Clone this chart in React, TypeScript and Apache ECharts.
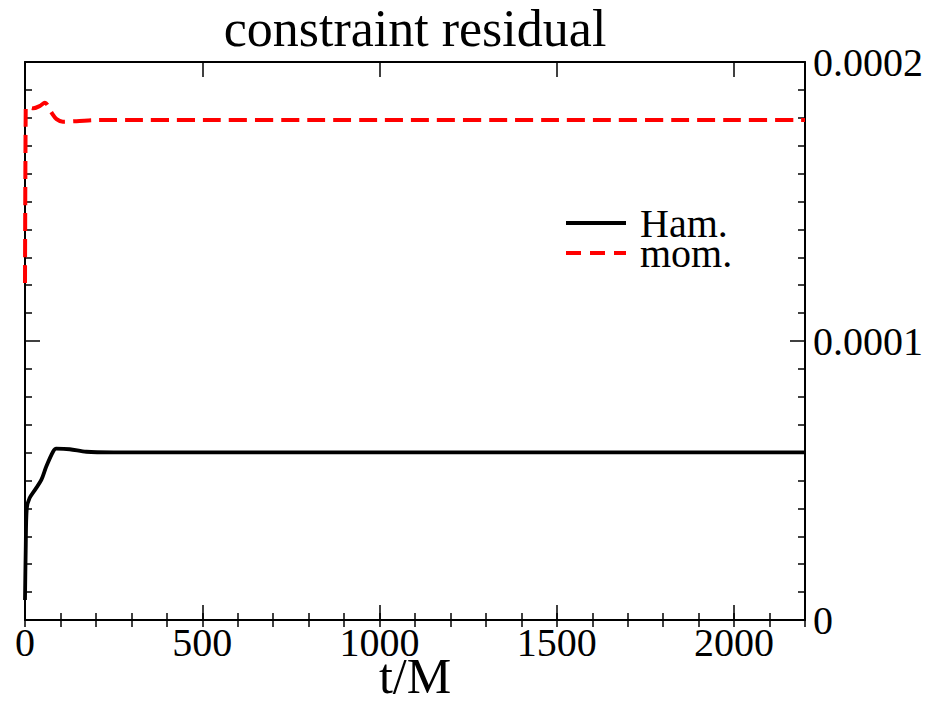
import React, { useEffect, useRef } from "react";
import * as echarts from "echarts";

const titleText = "constraint residual";
const xName = "t/M";
const seriesNames = ["Ham.", "mom."];

// Hamiltonian constraint residual
const hamT = [0, 2, 5, 13, 30, 46, 60, 79, 88, 126, 173, 250, 500, 1000, 1500, 2000, 2200];
const hamV = [0.72e-5, 2.5e-5, 4.0e-5, 4.37e-5, 4.7e-5, 5.02e-5, 5.5e-5, 6.03e-5, 6.14e-5, 6.12e-5, 6.03e-5, 6.01e-5, 6.01e-5, 6.01e-5, 6.01e-5, 6.01e-5, 6.01e-5];

// momentum constraint residual
const momT = [0, 2, 4, 23, 41, 56, 75, 89, 107, 145, 211, 324, 1000, 1500, 2000, 2200];
const momV = [12.08e-5, 18.3e-5, 18.4e-5, 18.34e-5, 18.42e-5, 18.54e-5, 18.18e-5, 17.95e-5, 17.86e-5, 17.88e-5, 17.92e-5, 17.92e-5, 17.92e-5, 17.92e-5, 17.92e-5, 17.92e-5];

const xMin = 0;
const xMax = 2200;
const xMajor = 500;
const xMinor = 100;
const yMin = 0;
const yMax = 0.0002;
const yMajor = 0.0001;

const FONT = "'Liberation Serif', 'Times New Roman', serif";

const ICON_SOLID = "path://M0,0H60V4H0Z";
const ICON_DASHED = "path://M0,0H15V4H0Z M24,0H39V4H24Z M48,0H60V4H48Z";

export default function App() {
  const ref = useRef<HTMLDivElement>(null);
  useEffect(() => {
    if (!ref.current) return;
    const chart = echarts.init(ref.current, null, { renderer: "svg" });
    const axisBlack = { lineStyle: { color: "#000", width: 2 } };
    const majorX = (pos: string, labels: boolean, name?: string) => ({
      type: "value",
      position: pos,
      min: xMin,
      max: xMax,
      interval: xMajor,
      axisLine: { show: true, onZero: false, ...axisBlack },
      axisTick: { show: true, inside: true, length: 15, lineStyle: { color: "#000", width: 1.5 } },
      axisLabel: labels
        ? {
            show: true,
            margin: 2,
            fontSize: 40,
            fontFamily: FONT,
            color: "#000",
            showMaxLabel: false,
            formatter: (v: number) => String(v),
          }
        : { show: false },
      splitLine: { show: false },
      name: name,
      nameLocation: "middle",
      nameGap: 31,
      nameMoveOverlap: false,
      nameTextStyle: { fontSize: 50, fontFamily: FONT, color: "#000" },
    });
    const minorX = (pos: string) => ({
      type: "value",
      position: pos,
      min: xMin,
      max: xMax,
      interval: xMinor,
      axisLine: { show: false },
      axisTick: { show: true, inside: true, length: 7, lineStyle: { color: "#000", width: 1.5 } },
      axisLabel: { show: false },
      splitLine: { show: false },
    });
    const yAx = (pos: string, labels: boolean) => ({
      type: "value",
      position: pos,
      min: yMin,
      max: yMax,
      interval: yMajor,
      axisLine: { show: true, onZero: false, ...axisBlack },
      axisTick: { show: true, inside: true, length: 15, lineStyle: { color: "#000", width: 1.5 } },
      minorTick: { show: true, splitNumber: 10, length: 7, lineStyle: { color: "#000", width: 1.5 } },
      axisLabel: labels
        ? {
            show: true,
            margin: 8,
            fontSize: 40,
            fontFamily: FONT,
            color: "#000",
            formatter: (v: number) => (v === 0 ? "0" : v.toFixed(4)),
          }
        : { show: false },
      splitLine: { show: false },
      minorSplitLine: { show: false },
    });
    chart.setOption({
      animation: false,
      backgroundColor: "#fff",
      title: {
        text: titleText,
        left: 415,
        top: 2,
        padding: 0,
        textAlign: "center",
        textStyle: { fontSize: 52, fontFamily: FONT, fontWeight: "normal", color: "#000" },
      },
      legend: {
        data: [
          { name: seriesNames[0], icon: ICON_SOLID },
          { name: seriesNames[1], icon: ICON_DASHED },
        ],
        orient: "vertical",
        left: 566,
        top: 203,
        padding: 0,
        itemWidth: 60,
        itemHeight: 4,
        itemGap: -10,
        textStyle: { fontSize: 40, fontFamily: FONT, color: "#000", padding: [0, 0, 0, 9] },
      },
      grid: { left: 25, right: 124, top: 62, bottom: 84, outerBoundsMode: "none", containLabel: false },
      xAxis: [majorX("bottom", true, xName), minorX("bottom"), majorX("top", false), minorX("top")],
      yAxis: [yAx("right", true), yAx("left", false)],
      series: [
        {
          name: seriesNames[0],
          type: "line",
          xAxisIndex: 0,
          yAxisIndex: 0,
          symbol: "none",
          smooth: 0.3,
          lineStyle: { color: "#000", width: 3.8 },
          itemStyle: { color: "#000" },
          data: hamT.map((t, i) => [t, hamV[i]]),
        },
        {
          name: seriesNames[1],
          type: "line",
          xAxisIndex: 0,
          yAxisIndex: 0,
          symbol: "none",
          smooth: 0.3,
          lineStyle: { color: "#ff0000", width: 4, type: [18, 8], cap: "butt" },
          itemStyle: { color: "#ff0000" },
          data: momT.map((t, i) => [t, momV[i]]),
        },
      ],
    });
    return () => chart.dispose();
  }, []);
  return (
    <div
      ref={ref}
      style={{ position: "fixed", left: 0, top: 0, width: 929, height: 704, background: "#fff" }}
    />
  );
}
